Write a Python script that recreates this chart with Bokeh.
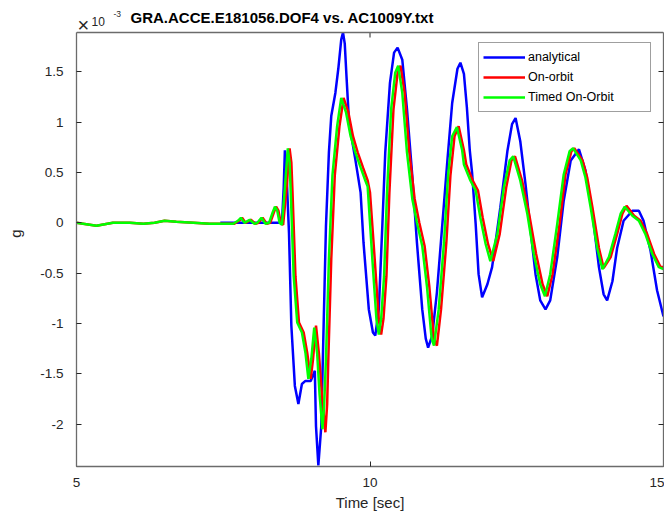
from bokeh.plotting import figure
from bokeh.models import (Range1d, FixedTicker, PrintfTickFormatter, LinearAxis,
                          Legend, LegendItem, Label, Span)
from bokeh.embed import file_html
from bokeh.resources import INLINE

# ---- data (values in units of 1e-3 g) ----
blue_t = [7.45, 8.0, 8.50, 8.53, 8.55, 8.57, 8.62, 8.66, 8.72, 8.78, 8.84, 8.90, 8.99, 9.06,
          9.08, 9.12, 9.17, 9.21, 9.25, 9.30, 9.34, 9.41, 9.46, 9.51, 9.54, 9.57, 9.60, 9.64, 9.70,
          9.75, 9.84, 9.89, 9.98, 10.05, 10.09, 10.15, 10.21, 10.26, 10.34, 10.41, 10.47,
          10.55, 10.63, 10.72, 10.80, 10.89, 10.95, 10.99, 11.06, 11.14, 11.23, 11.32, 11.40,
          11.49, 11.54, 11.60, 11.65, 11.70, 11.74, 11.80, 11.85, 11.91, 12.00, 12.08, 12.22, 12.34,
          12.42, 12.48, 12.56, 12.65, 12.73, 12.82, 12.90, 12.99, 13.07, 13.19, 13.30, 13.42,
          13.56, 13.67, 13.79, 13.90, 13.98, 14.04, 14.13, 14.21, 14.32, 14.47, 14.58, 14.66,
          14.78, 14.89, 15.0]
blue_g = [0.0, 0.0, 0.0, 0.35, 0.72, 0.60, -0.10, -1.02, -1.62, -1.80, -1.60, -1.57, -1.57, -1.47,
          -2.02, -2.41, -2.02, -1.02, -0.03, 0.70, 1.06, 1.29, 1.53, 1.82, 1.89, 1.78, 1.45, 1.03, 0.80,
          0.63, 0.30, -0.20, -0.86, -1.09, -1.12, -0.86, -0.03, 0.70, 1.39, 1.69, 1.74,
          1.62, 1.13, 0.47, -0.20, -0.86, -1.15, -1.24, -1.12, -0.69, -0.03, 0.63, 1.19,
          1.53, 1.59, 1.48, 1.15, 0.72, 0.49, -0.01, -0.51, -0.74, -0.61, -0.44, 0.15, 0.71,
          0.98, 1.04, 0.81, 0.38, -0.05, -0.51, -0.77, -0.86, -0.77, -0.34, 0.22, 0.62,
          0.73, 0.52, 0.09, -0.44, -0.71, -0.77, -0.58, -0.25, 0.02, 0.12, 0.12, 0.02,
          -0.28, -0.67, -0.93]

red_t = [5.0, 5.34, 5.62, 5.91, 6.14, 6.33, 6.50, 6.70, 6.99, 7.27, 7.50, 7.69, 7.77, 7.82, 7.88,
         7.97, 8.05, 8.10, 8.17, 8.24, 8.30, 8.36, 8.40, 8.44, 8.48, 8.52, 8.58, 8.63, 8.66, 8.68,
         8.73, 8.79, 8.87, 8.93, 8.99, 9.03, 9.08, 9.13, 9.18, 9.24, 9.27, 9.29, 9.34, 9.40, 9.48,
         9.55, 9.63, 9.71, 9.79, 9.88, 9.96, 10.00, 10.08, 10.15, 10.19, 10.23, 10.28, 10.33,
         10.40, 10.47, 10.52, 10.59, 10.67, 10.76, 10.84, 10.93, 11.01, 11.09, 11.14, 11.21,
         11.30, 11.37, 11.44, 11.51, 11.60, 11.64, 11.75, 11.84, 11.92, 12.01, 12.10, 12.21,
         12.32, 12.41, 12.47, 12.59, 12.71, 12.83, 12.94, 13.02, 13.11, 13.23, 13.33, 13.43,
         13.48, 13.62, 13.70, 13.79, 13.90, 13.98, 14.10, 14.21, 14.30, 14.37, 14.50, 14.61,
         14.72, 14.84, 14.95, 15.0]
red_g = [0.0, -0.03, 0.0, 0.0, -0.01, 0.0, 0.02, 0.01, 0.0, -0.01, -0.01, -0.01, 0.02, 0.05, 0.0,
         0.03, -0.01, 0.0, 0.05, -0.01, 0.0, 0.10, 0.16, 0.12, 0.0, -0.02, 0.35, 0.74, 0.60, 0.30,
         -0.53, -0.99, -1.09, -1.29, -1.55, -1.35, -1.02, -1.30, -1.70, -2.08, -1.80, -1.35, -0.36,
         0.47, 0.96, 1.24, 1.10, 0.86, 0.70, 0.55, 0.42, 0.30, -0.36, -0.96, -1.11, -0.95, -0.53,
         0.30, 1.13, 1.49, 1.56, 1.29, 0.70, 0.24, 0.0, -0.23, -0.63, -1.15, -1.22, -0.86,
         -0.20, 0.47, 0.86, 0.96, 0.72, 0.58, 0.42, 0.32, 0.05, -0.21, -0.38, -0.11,
         0.35, 0.62, 0.66, 0.42, 0.09, -0.31, -0.61, -0.73, -0.51, -0.01, 0.48, 0.71,
         0.74, 0.62, 0.45, 0.15, -0.25, -0.45, -0.34, -0.11, 0.09, 0.17, 0.07, 0.02,
         -0.11, -0.31, -0.44, -0.44]

green_t = [5.0, 5.34, 5.62, 5.91, 6.14, 6.33, 6.50, 6.70, 6.99, 7.27, 7.50, 7.67, 7.75, 7.80, 7.86,
           7.95, 8.03, 8.08, 8.15, 8.22, 8.28, 8.34, 8.38, 8.42, 8.46, 8.50, 8.55, 8.60, 8.63, 8.65,
           8.70, 8.76, 8.84, 8.90, 8.95, 9.00, 9.05, 9.10, 9.14, 9.19, 9.22, 9.25, 9.30, 9.36, 9.44,
           9.51, 9.59, 9.67, 9.75, 9.84, 9.92, 9.96, 10.04, 10.11, 10.15, 10.19, 10.24, 10.29,
           10.36, 10.43, 10.48, 10.55, 10.63, 10.72, 10.80, 10.89, 10.97, 11.05, 11.09, 11.17,
           11.26, 11.33, 11.40, 11.48, 11.57, 11.60, 11.71, 11.80, 11.88, 11.97, 12.05, 12.17,
           12.28, 12.38, 12.44, 12.56, 12.68, 12.79, 12.90, 12.98, 13.07, 13.19, 13.30, 13.40,
           13.46, 13.59, 13.67, 13.76, 13.87, 13.96, 14.07, 14.18, 14.27, 14.34, 14.47, 14.58,
           14.69, 14.81, 14.92, 15.0]
green_g = [0.0, -0.03, 0.0, 0.0, -0.01, 0.0, 0.02, 0.01, 0.0, -0.01, -0.01, -0.01, 0.02, 0.05, 0.0,
           0.03, -0.01, 0.0, 0.05, -0.01, 0.0, 0.10, 0.16, 0.12, 0.0, -0.02, 0.35, 0.74, 0.60, 0.30,
           -0.53, -0.99, -1.09, -1.29, -1.55, -1.35, -1.04, -1.30, -1.70, -2.05, -1.80, -1.35, -0.36,
           0.47, 0.96, 1.24, 1.10, 0.86, 0.70, 0.55, 0.42, 0.36, -0.36, -0.96, -1.11, -0.95, -0.53,
           0.30, 1.13, 1.49, 1.56, 1.29, 0.70, 0.24, 0.0, -0.23, -0.63, -1.15, -1.22, -0.86,
           -0.20, 0.47, 0.86, 0.95, 0.72, 0.58, 0.42, 0.32, 0.05, -0.21, -0.38, -0.11,
           0.35, 0.62, 0.66, 0.42, 0.09, -0.31, -0.61, -0.73, -0.51, -0.01, 0.48, 0.71,
           0.74, 0.62, 0.45, 0.15, -0.25, -0.46, -0.34, -0.11, 0.09, 0.16, 0.07, 0.02,
           -0.11, -0.31, -0.44, -0.46]

x_ticks = [5, 10, 15]
y_ticks = [-2, -1.5, -1, -0.5, 0, 0.5, 1, 1.5]
series_names = ["analytical", "On-orbit", "Timed On-Orbit"]
title_text = "GRA.ACCE.E181056.DOF4 vs. AC1009Y.txt"

FONT = "Liberation Sans"
AX_COLOR = "#6b6b6b"
TICK_COLOR = "#262626"

# axes box limits (data) and its pixel layout
x_lo, x_hi = 5, 15
y_lo, y_hi = -2.42, 1.89
BOX_TOP = 32      # px from canvas top to the box top
BOX_H = 434       # px height of the box
per_px = (y_hi - y_lo) / BOX_H
y_canvas_top = y_hi + BOX_TOP * per_px

p = figure(width=664, height=513, output_backend="svg", toolbar_location=None, title=None,
           x_range=Range1d(x_lo, x_hi), y_range=Range1d(y_lo, y_canvas_top),
           min_border_left=76, min_border_right=1, min_border_top=0, min_border_bottom=47)
p.outline_line_color = None
p.grid.visible = False
p.background_fill_color = "white"
p.border_fill_color = "white"

ax_x = p.xaxis[0]
ax_y = p.yaxis[0]
ax_x.ticker = FixedTicker(ticks=x_ticks)
ax_y.ticker = FixedTicker(ticks=y_ticks)
ax_x.formatter = PrintfTickFormatter(format="%g")
ax_y.formatter = PrintfTickFormatter(format="%g")
ax_y.bounds = (y_lo, y_hi)

right_ax = LinearAxis(ticker=FixedTicker(ticks=y_ticks), bounds=(y_lo, y_hi))
p.add_layout(right_ax, "right")

for ax in [ax_x, ax_y, right_ax]:
    ax.axis_line_color = AX_COLOR
    ax.axis_line_width = 1.3
    ax.major_tick_line_color = TICK_COLOR
    ax.major_tick_in = 5
    ax.major_tick_out = 0
    ax.minor_tick_line_color = None
    ax.major_label_text_font = FONT
    ax.major_label_text_font_size = "13.5px"
    ax.major_label_text_color = "#262626"

right_ax.major_label_text_color = None
right_ax.major_label_standoff = 0

ax_x.major_label_standoff = 11
ax_y.major_label_standoff = 13

ax_x.axis_label = "Time [sec]"
ax_y.axis_label = "g"
for ax in [ax_x, ax_y]:
    ax.axis_label_text_font = FONT
    ax.axis_label_text_font_size = "15px"
    ax.axis_label_text_font_style = "normal"
    ax.axis_label_text_color = "#262626"
ax_x.axis_label_standoff = 4
ax_y.axis_label_standoff = 13

# top edge of the box with inward ticks
p.add_layout(Span(location=y_hi, dimension="width", line_color=AX_COLOR, line_width=1.3))
tick_len = 5 * per_px
p.segment(x0=x_ticks, y0=[y_hi] * len(x_ticks), x1=x_ticks, y1=[y_hi - tick_len] * len(x_ticks),
          line_color=TICK_COLOR, line_width=1)

rb = p.line(blue_t, blue_g, line_color="#0000ff", line_width=2.5)
rr = p.line(red_t, red_g, line_color="#ff0000", line_width=2.5)
rg = p.line(green_t, green_g, line_color="#00ff00", line_width=2.5)

legend = Legend(items=[LegendItem(label=series_names[0], renderers=[rb]),
                       LegendItem(label=series_names[1], renderers=[rr]),
                       LegendItem(label=series_names[2], renderers=[rg])],
                location=(402, 354))
legend.padding = 4
legend.margin = 0
legend.spacing = 0
legend.glyph_width = 42
legend.glyph_height = 20
legend.label_height = 20
legend.label_width = 118
legend.label_standoff = 3
legend.label_text_font = FONT
legend.label_text_font_size = "12.5px"
legend.label_text_color = "#000000"
legend.border_line_color = "#404040"
legend.border_line_width = 1
legend.background_fill_color = "white"
legend.background_fill_alpha = 1.0
p.add_layout(legend)

# title and exponent (screen units measured from the frame's bottom-left)
frame_bottom = BOX_TOP + BOX_H
p.add_layout(Label(x=54, y=frame_bottom - 17.3, x_units="screen", y_units="screen", text=title_text,
                   text_font=FONT, text_font_style="bold", text_font_size="15px",
                   text_color="#000000", text_baseline="alphabetic", text_align="left"))
p.add_layout(Label(x=1, y=frame_bottom - 24, x_units="screen", y_units="screen", text="\u00d7",
                   text_font=FONT, text_font_size="20px", text_color="#262626",
                   text_baseline="middle", text_align="left"))
p.add_layout(Label(x=15, y=frame_bottom - 20.7, x_units="screen", y_units="screen", text="10",
                   text_font=FONT, text_font_size="12px", text_color="#262626",
                   text_baseline="alphabetic", text_align="left"))
p.add_layout(Label(x=37, y=frame_bottom - 13, x_units="screen", y_units="screen", text="-3",
                   text_font=FONT, text_font_size="8.5px", text_color="#262626",
                   text_baseline="alphabetic", text_align="left"))

open("out.html", "w").write(file_html(p, INLINE))
